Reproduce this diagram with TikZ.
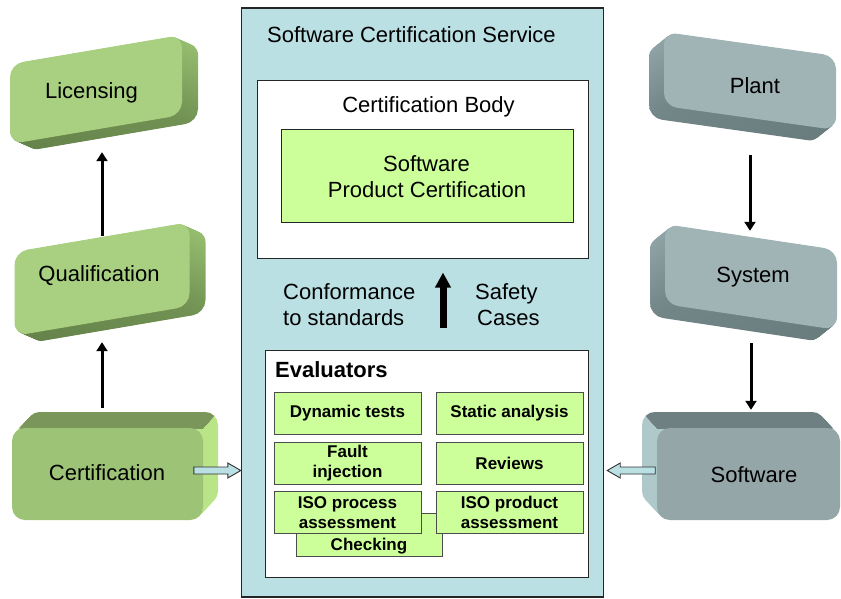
\documentclass[tikz,border=0pt]{standalone}
\usepackage{fontspec}
\setmainfont{Liberation Sans}
\usetikzlibrary{arrows.meta}

\definecolor{svcblue}{RGB}{186,224,228}
\definecolor{limefill}{RGB}{204,255,153}
\definecolor{leafface}{RGB}{168,208,128}
\definecolor{leafsideA}{RGB}{152,192,112}
\definecolor{leafsideB}{RGB}{100,130,74}
\definecolor{certface}{RGB}{157,195,118}
\definecolor{certtop}{RGB}{122,150,90}
\definecolor{certside}{RGB}{185,228,135}
\definecolor{slateface}{RGB}{160,179,181}
\definecolor{slatesideA}{RGB}{146,166,169}
\definecolor{slatesideB}{RGB}{104,123,125}
\definecolor{softface}{RGB}{149,166,168}
\definecolor{softtop}{RGB}{110,128,130}
\definecolor{softside}{RGB}{175,200,202}

% extruded body of a slanted block: layers stacked from the back towards the face
\newcommand\slabstack[8]{% #1,#2 centre; #3,#4 size; #5 slant; #6,#7 depth; #8 paint
  \foreach \k in {24,...,1}{%
    \path[#8, rounded corners=13pt, shift={({#1+#6*\k/24},{#2+#7*\k/24})}, yslant=#5]
      ({-#3/2},{-#4/2}) rectangle ({#3/2},{#4/2});}}

\begin{document}
\begin{tikzpicture}[x=1pt, y=-1pt,
  lbl/.style={font=\fontsize{22}{26}\selectfont, inner sep=0pt, text height=15.8pt, text depth=0pt},
  boldlbl/.style={font=\fontsize{17}{20}\selectfont\bfseries, inner sep=0pt, text height=12.2pt, text depth=0pt},
  face/.style={rounded corners=13pt, inner sep=0pt},
  panel/.style={draw=black!85, line width=1pt, inner sep=0pt},
  evalbox/.style={draw=black!70, line width=0.9pt, fill=limefill, minimum width=147pt,
    minimum height=42pt, inner sep=0pt, align=center, font=\fontsize{17}{20}\selectfont\bfseries},
  arr/.style={line width=3pt, -{Triangle[length=9pt, width=11pt]}},
  bigarr/.style={line width=7pt, -{Triangle[length=15pt, width=15pt]}},
  blockarrow/.style={draw=black!80, line width=0.9pt, fill=svcblue, line join=miter},
]
\useasboundingbox (0,0) rectangle (841,598);

% service frame
\node[draw=black!85, line width=1.4pt, fill=svcblue, minimum width=362pt, minimum height=589pt,
  inner sep=0pt] (svc) at (422.5,302.5) {};
\node[lbl, anchor=west] (svcTitle) at (267,34.5) {Software Certification Service};

% ---- left column: green blocks
\slabstack{96}{89.5}{172}{80}{0.17}{16}{7}{top color=leafsideA, bottom color=leafsideB}
\begin{scope}[shift={(96,89.5)}, yslant=0.17]
  \node[face, fill=leafface, minimum width=172pt, minimum height=80pt, transform shape] (licF) at (0,0) {};
\end{scope}
\node[lbl] (lic) at (91.5,91) {Licensing};

\slabstack{102}{279}{175}{84}{0.17}{16}{7}{top color=leafsideA, bottom color=leafsideB}
\begin{scope}[shift={(102,279)}, yslant=0.17]
  \node[face, fill=leafface, minimum width=175pt, minimum height=84pt, transform shape] (qualF) at (0,0) {};
\end{scope}
\node[lbl] (qual) at (99,274) {Qualification};

\slabstack{107.5}{474}{191}{92}{0}{15}{-16}{fill=certside}
\begin{scope}
  \clip (0,428) -- (203,428) -- (240,388) -- (0,388) -- cycle;
  \slabstack{107.5}{474}{191}{92}{0}{15}{-16}{fill=certtop}
\end{scope}
\node[face, fill=certface, minimum width=191pt, minimum height=92pt] (certF) at (107.5,474) {};
\node[lbl] (cert) at (107,472.5) {Certification};

% ---- right column: slate blocks
\slabstack{750}{81}{172}{74}{-0.14}{-15}{12}{top color=slatesideA, bottom color=slatesideB}
\begin{scope}[shift={(750,81)}, yslant=-0.14]
  \node[face, fill=slateface, minimum width=172pt, minimum height=74pt, transform shape] (plantF) at (0,0) {};
\end{scope}
\node[lbl] (plant) at (755,85.5) {Plant};

\slabstack{751}{277}{172}{80}{-0.15}{-15}{12}{top color=slatesideA, bottom color=slatesideB}
\begin{scope}[shift={(751,277)}, yslant=-0.15]
  \node[face, fill=slateface, minimum width=172pt, minimum height=80pt, transform shape] (sysF) at (0,0) {};
\end{scope}
\node[lbl] (sys) at (753,274.5) {System};

\slabstack{748.5}{474}{183}{92}{0}{-15}{-16}{fill=softside}
\begin{scope}
  \clip (841,428) -- (657,428) -- (620,388) -- (841,388) -- cycle;
  \slabstack{748.5}{474}{183}{92}{0}{-15}{-16}{fill=softtop}
\end{scope}
\node[face, fill=softface, minimum width=183pt, minimum height=92pt] (softF) at (748.5,474) {};
\node[lbl] (soft) at (754,475) {Software};

% ---- certification body
\node[panel, fill=white, minimum width=331pt, minimum height=178pt] (cbody) at (422.5,169) {};
\node[lbl] (cbodyTitle) at (428.5,105) {Certification Body};
\node[panel, fill=limefill, minimum width=292pt, minimum height=93pt] (spc) at (427,175.5) {};
\node[lbl] (spc1) at (426.5,163.5) {Software};
\node[lbl] (spc2) at (427,189.5) {Product Certification};

\node[lbl, anchor=west] (conf1) at (283,291.5) {Conformance};
\node[lbl, anchor=west] (conf2) at (283,317.5) {to standards};
\node[lbl, anchor=west] (safe1) at (475,292) {Safety};
\node[lbl, anchor=west] (safe2) at (477,317.5) {Cases};

% ---- evaluators
\node[panel, fill=white, minimum width=323pt, minimum height=227pt] (evals) at (426.5,463.5) {};
\node[lbl, font=\fontsize{22}{26}\selectfont\bfseries, anchor=west] (evalTitle) at (275,369.5) {Evaluators};

\node[evalbox, minimum width=146pt, minimum height=43pt] (chk) at (369,534.5) {};
\node[boldlbl] (chkLbl) at (369,544) {Checking};
\node[evalbox] (dyn) at (347.5,413.5) {Dynamic tests};
\node[evalbox] (stat) at (509.5,413.5) {Static analysis};
\node[evalbox] (fault) at (347.5,463.5) {Fault\\injection};
\node[evalbox] (rev) at (509.5,463.5) {Reviews};
\node[evalbox] (isoproc) at (347.5,512.5) {ISO process\\assessment};
\node[evalbox] (isoprod) at (509.5,512.5) {ISO product\\assessment};

% ---- connectors
\draw[arr, shorten <=1pt, shorten >=22.5pt] (qualF.north) -- (qualF.north |- licF.south);
\draw[arr, shorten <=20pt, shorten >=21pt] (certF.north -| qualF.south) -- (qualF.south);
\draw[arr, shorten <=37pt, shorten >=6pt] (plantF.south) -- (plantF.south |- sysF.north);
\draw[arr, shorten <=26pt, shorten >=18pt] (sysF.south) -- (sysF.south |- softF.north);

\coordinate (confBase) at (443,328);
\draw[bigarr, shorten >=14pt] (confBase) -- (confBase |- cbody.south);

% hollow block arrows into the service frame
\coordinate (certOut) at (svc.west |- 0,470.5);
\draw[blockarrow] (certOut) -- ++(-13,-7.5) -- ++(0,4) -- ++(-34,0) -- ++(0,7)
  -- ++(34,0) -- ++(0,4) -- cycle;
\coordinate (softOut) at (svc.east |- 0,470.5);
\draw[blockarrow] ([xshift=3pt]softOut) -- ++(13,-7.5) -- ++(0,4) -- ++(35,0) -- ++(0,7)
  -- ++(-35,0) -- ++(0,4) -- cycle;
\end{tikzpicture}
\end{document}
